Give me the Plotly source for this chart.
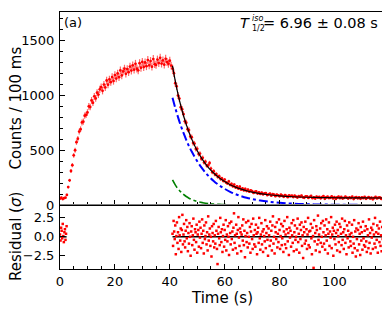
import numpy as np
import plotly.graph_objects as go
from plotly.subplots import make_subplots

# ---------------- data ----------------
bin_width = 0.5  # s, spacing of plotted count bins
counts = [
    58, 66, 54, 62, 67, 92, 163, 224, 309, 362,
    452, 498, 571, 603, 668, 689, 751, 758, 812, 819,
    842, 897, 891, 951, 930, 988, 969, 1021, 1004, 1052,
    1071, 1038, 1095, 1069, 1132, 1094, 1142, 1117, 1163, 1128,
    1181, 1150, 1196, 1162, 1224, 1178, 1215, 1240, 1193, 1236,
    1208, 1259, 1222, 1270, 1231, 1284, 1239, 1225, 1290, 1248,
    1301, 1255, 1296, 1262, 1318, 1270, 1309, 1258, 1327, 1281,
    1274, 1322, 1291, 1338, 1286, 1315, 1276, 1329, 1300, 1284,
    1312, 1268, 1241, 1199, 1108, 1079, 995, 968, 889, 871,
    826, 761, 748, 689, 681, 622, 617, 563, 559, 509,
    511, 463, 468, 421, 429, 386, 394, 357, 360, 382,
    331, 298, 307, 276, 281, 255, 262, 236, 241, 219,
    231, 205, 196, 214, 183, 192, 170, 185, 159, 168,
    149, 166, 140, 151, 134, 147, 128, 139, 121, 133,
    126, 110, 118, 123, 104, 115, 101, 112, 97, 106,
    108, 90, 97, 104, 85, 99, 93, 80, 95, 88,
    79, 93, 84, 75, 90, 82, 71, 87, 80, 85,
    72, 84, 76, 68, 81, 74, 86, 70, 66, 78,
    79, 64, 73, 82, 62, 70, 58, 76, 68, 74,
    61, 72, 80, 57, 69, 75, 63, 66, 78, 60,
    71, 55, 68, 77, 62, 73, 59, 64, 75, 67,
    58, 70, 63, 76, 54, 66, 72, 61, 68, 57,
    69, 62, 74, 56, 65, 71, 59, 67, 52, 64,
    73, 60, 66, 70, 57, 64,
]

# fit curves (values read at selected times)
fit_t = [41, 42, 43, 44, 45, 46, 47, 48, 50, 52, 54, 56, 58, 60, 62, 64, 66, 68, 70,
         73, 76, 80, 85, 90, 95, 100, 105, 110, 118]
fit_total = [1266, 1129, 1009, 905, 814, 733, 661, 599, 493, 410, 343, 291, 248, 214, 185,
             162, 145, 129.5, 117, 103, 93, 83, 75, 70.4, 67.5, 65.7, 64.7, 64, 63.5]
fit_main = [975, 883, 799, 723, 655, 593, 536, 486, 398, 326, 267, 219, 179, 147, 120, 98,
            81, 66, 54, 40, 30, 20, 12, 7.4, 4.5, 2.7, 1.7, 1.0, 0.45]
fast_t = [41, 42, 43, 44, 45, 46, 47, 48, 50, 52, 54, 56, 58, 60, 63, 66, 70]
fit_fast = [228, 183, 147, 119, 96, 77, 62, 50, 32, 21, 13, 8.7, 5.6, 3.6, 1.9, 1.0, 0.4]

# residuals
res_step = 0.2
res1_start = 0.0
res1 = [0.3, -0.5, 1.2, 0.8, -0.2, 1.7, 0.1, -0.7, 0.6, 1.0, -0.4, 0.4, 1.4]
res2_start = 41.0
res2 = [
    0.4, -1.2, 2.1, 0.7, -0.3, 1.5, -2.3, 0.1, 1.9, -0.8, 0.6, -1.6, 2.6, 0.2, -0.5, 1.1, -2.0, 0.9, 2.9, -1.0, 0.3, 1.7, -0.6, -1.4, 0.8,
    2.2, -0.2, 1.3, -1.9, 0.5, -0.9, 1.8, 0.0, -2.5, 0.7, 1.4, -1.1, 0.2, 2.4, -0.4, -1.7, 1.0, 0.6, -0.7, 1.6, -2.1, 0.3, 0.9, -1.3, 2.0,
    -0.1, 1.2, -1.5, 0.4, 2.3, -0.8, 0.8, -2.2, 1.5, -0.3, 0.1, 1.9, -1.0, 0.6, -1.8, 2.7, -0.5, 0.3, 1.1, -1.2, 0.0, -2.6, 1.4, 0.5, -0.6,
    1.7, -1.4, 0.2, -0.9, 2.1, 0.8, -1.6, -3.6, 0.4, 1.3, -0.2, -1.1, 2.5, 0.6, -0.7, 1.0, -2.0, 0.1, 1.6, -1.3, 0.9, -0.4, 2.2, -1.8, 0.3,
    -0.6, 1.4, 0.0, -2.4, 1.8, 0.5, -1.0, 2.0, -0.3, 0.7, -1.7, 1.2, 3.1, -0.8, 0.2, -1.5, 1.6, 0.4, -2.2, 0.9, 2.6, -0.1, -1.2, 1.1, 0.6,
    -1.9, 0.3, 1.5, -0.5, 2.3, -1.1, 0.8, -2.7, 0.1, 1.9, -0.7, 0.5, -1.4, 2.1, 0.0, -0.9, 1.3, -2.1, 0.7, 1.7, -0.3, -1.6, 2.4, 0.2, -1.0,
    0.9, -1.3, 1.6, 0.4, -2.3, 0.6, 1.2, -0.8, 2.5, -0.2, -1.7, 0.3, 1.8, -1.0, 0.7, -2.0, 1.0, 0.1, -0.6, 2.2, -1.5, 0.5, 1.4, -0.4, -2.5,
    1.1, 0.2, -1.2, 2.0, -0.5, 0.8, -1.8, 1.5, 2.7, -0.9, 0.0, -2.2, 1.3, 0.6, -0.3, 1.9, -1.4, 0.4, -0.7, 2.3, 0.9, -1.6, 0.1, 1.7, -1.1,
    -0.2, 1.4, -2.0, 0.7, 2.1, -1.0, 0.3, -1.5, 1.0, 2.6, -0.6, 0.5, -2.4, 1.2, -0.1, 0.8, -1.3, 1.8, 0.2, -0.8, 2.2, -1.9, 0.6, 1.5, -0.4,
    0.0, -1.7, 1.1, 2.4, -0.7, 0.4, -2.1, 1.6, -0.3, 0.9, 1.9, -1.2, 0.2, -2.8, 1.3, 0.6, -0.9, 2.0, -0.5, 1.0, -1.6, 0.3, 2.5, -1.1, 0.7,
    -1.4, 0.8, 1.7, -0.2, -2.3, 1.2, 0.1, -4.1, 2.2, -0.6, 0.5, -1.8, 1.4, 0.9, -1.0, 2.8, -0.4, 0.3, -2.0, 1.1, -0.8, 1.8, 0.0, -1.3, 2.1,
    0.6, -0.9, 1.5, -1.7, 0.2, 2.3, -0.5, 1.0, -2.2, 0.4, 1.9, -1.2, 0.7, -0.1, 2.6, -1.5, 0.3, 1.2, -2.5, 0.8, -0.3, 1.6, -1.0, 0.5, 2.0,
    -1.8, 0.9, 0.1, -0.7, 1.7, -2.0, 1.3, 0.4, -1.1, 2.4, -0.4, 0.6, -1.6, 1.0, 2.1, -0.8, 0.2, -2.3, 1.5, -0.2, 0.8, -1.4, 1.9, 0.3, -0.6,
    -1.2, 0.5, 1.6, -2.1, 0.0, -0.9, 2.2, -1.5, 0.7, -2.6, 1.1, -0.3, -1.8, 0.9, 1.8, -1.0, 0.4, -2.4, 1.3, -0.5, 0.6, -1.7, 2.0, -0.2, -1.1,
    0.8, -1.3, 1.4, -0.6, -2.0, 1.0, 0.2, -1.5, 2.3, -0.8, 0.5, -2.2, 1.2, -0.1, 0.9, -1.6, 1.7, 0.3, -0.9, 2.5, -1.4, 0.6, -0.4, 1.5, -2.1,
    0.4, 1.1, -0.7, 2.0, -1.2, 0.2, -1.9, 1.3, -0.3, 0.7,
]

t_counts = np.arange(len(counts)) * bin_width
err_counts = np.sqrt(np.array(counts, dtype=float))
t_res1 = res1_start + np.arange(len(res1)) * res_step
t_res2 = res2_start + np.arange(len(res2)) * res_step

# ---------------- figure ----------------
# page is drawn with an 8px body margin: compensate so the plot lands where the reference has it
OFF = 8
W, H = 390 - OFF, 309 - OFF
X0, X1, Y0, Y1 = 60, 383, 12, 269          # plot area in page pixels
ML, MT = X0 - OFF, Y0 - OFF
MR, MB = 390 - X1, 309 - Y1
PW, PH = X1 - X0, Y1 - Y0

def px(x):
    return (x - X0) / PW

def py(y):
    return (Y1 - y) / PH

split = (269 - 205) / PH

fig = make_subplots(rows=2, cols=1, shared_xaxes=True, vertical_spacing=0,
                    row_heights=[1 - split, split])

RED = "#ff0000"
FONT = "DejaVu Sans"

fig.add_trace(go.Scatter(x=fit_t, y=fit_main, mode="lines", line=dict(color="#0000ff", width=2, dash="dashdot", shape="spline"), showlegend=False), row=1, col=1)
fig.add_trace(go.Scatter(x=fast_t, y=fit_fast, mode="lines", line=dict(color="#008000", width=1.6, dash="dashdot", shape="spline"), showlegend=False), row=1, col=1)
fig.add_trace(go.Scatter(x=t_counts, y=counts, mode="markers",
                         marker=dict(color=RED, size=2.8),
                         error_y=dict(type="data", array=err_counts, color="rgba(255,0,0,0.6)", thickness=1.2, width=0),
                         showlegend=False), row=1, col=1)
fig.add_trace(go.Scatter(x=fit_t, y=fit_total, mode="lines", line=dict(color="black", width=1.2, shape="spline"), showlegend=False), row=1, col=1)

# residual panel
fig.add_trace(go.Scatter(x=[t_res1[0], t_res1[-1]], y=[0, 0], mode="lines", line=dict(color="black", width=1.5), showlegend=False), row=2, col=1)
fig.add_trace(go.Scatter(x=[t_res2[0], 118], y=[0, 0], mode="lines", line=dict(color="black", width=1.5), showlegend=False), row=2, col=1)
fig.add_trace(go.Scatter(x=t_res1, y=res1, mode="markers", marker=dict(color=RED, size=2.5, symbol="square"), showlegend=False), row=2, col=1)
fig.add_trace(go.Scatter(x=t_res2, y=res2, mode="markers", marker=dict(color=RED, size=2.5, symbol="square"), showlegend=False), row=2, col=1)

axis_common = dict(showline=True, linecolor="black", linewidth=1, mirror=True,
                   showgrid=False, zeroline=False, ticks="inside", ticklen=5,
                   tickcolor="black", tickfont=dict(family=FONT, size=13, color="black"))

fig.update_xaxes(**axis_common, range=[0, 117.7], dtick=20, tick0=0,
                 minor=dict(ticks="inside", dtick=5, ticklen=3, tickcolor="black"))
fig.update_xaxes(showticklabels=False, row=1, col=1)
fig.update_yaxes(**axis_common, row=1, col=1, range=[0, 1755], tickvals=[0, 500, 1000, 1500],
                 minor=dict(ticks="inside", dtick=100, ticklen=3, tickcolor="black"),
                 ticklabelstandoff=2)
fig.update_yaxes(**axis_common, row=2, col=1, range=[-4.25, 4.2], tickvals=[-2.5, 0, 2.5],
                 ticktext=["\u22122.5", "0.0", "2.5"], ticklabelstandoff=2)

fig.add_shape(type="line", xref="x domain", yref="y", x0=0, x1=1, y0=0, y1=0,
              line=dict(color="grey", width=2), layer="above", row=1, col=1)

ann = []
def A(text, x, y, size=14, xanchor="center", yanchor="middle", angle=0):
    ann.append(dict(text=text, x=px(x), y=py(y), xref="paper", yref="paper", showarrow=False,
                    xanchor=xanchor, yanchor=yanchor, textangle=angle, borderpad=0,
                    font=dict(family=FONT, size=size, color="black")))

A("(a)", 63, 23, size=13, xanchor="left")
A("<i>T</i>", 251, 23, size=14.5, xanchor="right")
A("<i>iso</i>", 251, 18, size=8, xanchor="left")
A("1/2", 251, 28.5, size=8, xanchor="left")
A("= 6.96 \u00b1 0.08 s", 379, 23, size=14.5, xanchor="right")
A("Counts / 100 ms", 15, 108.5, size=15, angle=-90)
A("Residual (<i>\u03c3</i>)", 16, 237, size=15, angle=-90)
A("Time (s)", 221.5, 297.5, size=15)

fig.update_layout(width=W, height=H, margin=dict(l=ML, r=MR, t=MT, b=MB, autoexpand=False),
                  paper_bgcolor="white", plot_bgcolor="white", annotations=ann,
                  font=dict(family=FONT, size=13, color="black"))

fig.write_html("out.html")
